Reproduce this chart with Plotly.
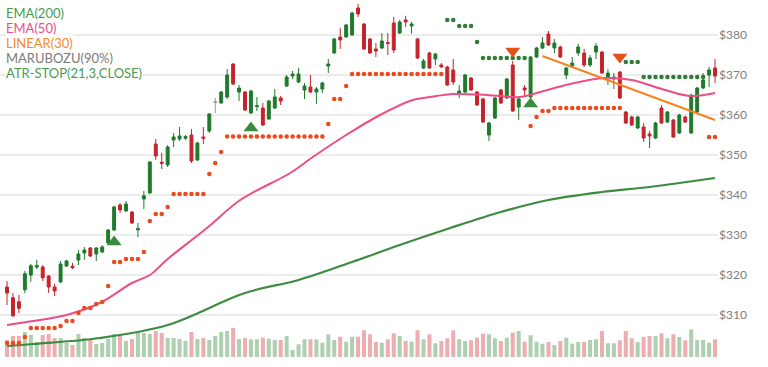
import plotly.graph_objects as go

open_ = [317, 314.3, 313.3, 316.3, 320, 322, 322, 319.75, 317, 318.25,
         322.25, 322.2, 323.75, 325.5, 326.75, 325.25, 325.75, 328, 331.25, 337.5,
         336, 335.75, 331.3, 339, 340.5, 352.75, 348.2, 347.5, 353.75, 354,
         354.2, 355, 348.75, 354.5, 356, 363.2, 363, 364.5, 372.75, 365.75,
         365.75, 360.5, 362.1, 361.75, 359, 361.75, 364.25, 367.25, 369.75, 368.25,
         366.25, 367, 365.75, 366.5, 372.25, 375.5, 379.5, 379.5, 380, 386.75,
         382.75, 379, 376.5, 376.75, 378.1, 383, 380.5, 383.75, 382.25, 379,
         371.75, 375.5, 374, 372.5, 372, 371.25, 365.5, 365.75, 369.25, 365.75,
         364, 355, 359.25, 366.25, 364.25, 372.5, 362, 366.75, 364.5, 374.5,
         376.75, 380.25, 376.75, 377, 370, 372.25, 375.5, 375.5, 372.5, 375.75,
         375.75, 369.5, 369, 370.75, 360.75, 359.5, 356.75, 357, 355.25, 354.25,
         361.75, 358.25, 358.75, 355.5, 359.5, 355.5, 360.75, 366.75, 370, 371.75]
high = [318.5, 315.5, 315, 321, 322.8, 323.8, 322.5, 320, 317.8, 323.5,
        323.8, 323, 326.3, 327, 327, 327, 327.5, 331.5, 337.3, 338,
        338.5, 336, 333, 341, 348.5, 354, 350.5, 352.5, 355.5, 357,
        355, 356.5, 353.3, 357, 360.5, 364.3, 366, 371.5, 373, 367.5,
        366, 366.3, 364.5, 363, 363.8, 366.5, 364.8, 370, 371, 371.8,
        368, 370, 367, 368.3, 374, 379.3, 381.8, 382.8, 385.8, 387.8,
        383, 379.3, 378, 380.5, 380.5, 384.5, 383.8, 384.8, 383.3, 379.3,
        374, 375.8, 375.5, 373, 372.3, 374, 367.5, 370.3, 369.5, 366,
        364.3, 358.3, 364.5, 366.5, 369.3, 373.5, 364.3, 367.5, 374.8, 377,
        379.5, 381, 379, 377.3, 372, 374.5, 377.8, 376.5, 375, 378,
        376, 371.5, 370.5, 371, 361, 359.8, 359.8, 358, 356, 358.3,
        362.5, 361, 359, 360.3, 359.8, 365.3, 367, 370.5, 372, 374]
low = [312.5, 309.5, 310.5, 315.5, 318.3, 321.5, 318.5, 315.5, 314.75, 318,
       322, 321.5, 322.5, 323.8, 324.5, 323.5, 325.5, 327.5, 331, 335.5,
       335.8, 332.8, 329.5, 336.5, 340.3, 348.75, 346.5, 347, 352, 353.5,
       353.8, 348, 348.5, 352.7, 355.5, 360.5, 362.8, 364, 367.5, 363.5,
       361, 360.3, 361, 357.3, 358.8, 361.5, 362.5, 367, 369, 368,
       364, 365.5, 362.8, 365.5, 370.5, 375.3, 376.5, 379.3, 379.8, 384.5,
       376.3, 375.3, 374.5, 376.5, 375, 375.5, 380.3, 382, 380.3, 374,
       371.5, 371.5, 372.5, 371.8, 367.3, 367.5, 364.2, 365.5, 366, 362.3,
       358, 353.5, 359, 362.8, 364, 360.8, 358.75, 364.5, 364.3, 374.3,
       376.5, 377.3, 375.5, 374.3, 369, 372, 374.8, 372, 372, 374,
       370.3, 367.5, 366.5, 364, 357.8, 357.3, 356.5, 353.3, 351.75, 354,
       357.8, 358, 354.3, 355.3, 358, 355.3, 360.5, 366.5, 367, 368]
close = [315.5, 309.8, 311.7, 320.3, 322.3, 322.4, 319.3, 317, 316, 322.75,
         323.5, 321.8, 325.25, 326.25, 324.75, 326.75, 327, 331.25, 337, 336.25,
         337.75, 333, 331.6, 339.8, 348.25, 349.75, 347.9, 352, 354.5, 354.75,
         354.6, 348.5, 353, 354.2, 360.25, 363.3, 365.75, 370, 367.75, 366.75,
         361.25, 366, 362.3, 357.5, 363.5, 364.5, 363.5, 369.5, 370.25, 370.25,
         367.25, 365.75, 366.5, 368, 372.75, 379, 378.75, 382.5, 385.5, 385.25,
         376.5, 375.5, 376, 378.5, 377.9, 376.25, 383.25, 383.25, 382.75, 374.25,
         373.5, 371.75, 375.25, 372, 367.5, 368.25, 366, 370, 366.25, 362.5,
         358.25, 358, 364.25, 363, 369, 361, 364, 366.25, 374.5, 376.75,
         378, 377.5, 378, 374.5, 371.75, 373, 377, 372.5, 374.25, 377.25,
         370.5, 370.5, 369.5, 364.25, 358, 357.5, 359.5, 354.25, 354.75, 358,
         358, 360.75, 354.5, 360, 358.25, 365, 366.75, 368.75, 371.25, 369.75]
volume = [17, 21, 21, 25, 22, 15, 22, 23, 19, 19,
          14, 12, 23, 19, 18, 13, 14, 18, 23, 23,
          16, 18, 24, 24, 23, 26, 24, 19, 19, 18,
          16, 25, 18, 19, 17, 21, 25, 26, 29, 18,
          19, 17.7, 17.7, 19.3, 18.3, 17, 17, 21, 7, 12.7,
          17.7, 17.7, 17.7, 14.3, 22.7, 17, 20.3, 15.3, 20.3, 20.3,
          26.7, 22.7, 15, 14.3, 17.7, 23.7, 21, 16, 15.3, 26.7,
          17.7, 22.7, 13.7, 16, 18.7, 26.7, 17.7, 16, 16.7, 19.3,
          23.3, 22.7, 18.7, 16, 19.3, 24.3, 26, 15.3, 21.7, 15.3,
          13.3, 15, 12, 16, 19.3, 13.3, 15, 15, 17, 17.7,
          26, 13.7, 13.7, 16.7, 26, 18.7, 15, 20, 21, 21,
          23.7, 18.7, 22.7, 20, 16.7, 27.7, 17, 17, 14.3, 17.7]

marubozu_idx = [35]

ema200_idx = [0, 4.4, 15.6, 27, 40, 49, 58, 66, 74.5, 83, 91, 100, 108, 119]
ema200_val = [302.25, 302.75, 304.25, 307.5, 315.5, 318.75, 323.25, 327.5, 331.75,
              335.75, 338.75, 340.75, 342, 344.25]
ema50_idx = [0, 4.4, 10, 15.6, 21, 24, 27, 33.6, 39.2, 47.6, 51.4, 57, 62.7, 68.2,
             71.1, 75, 80.7, 86.2, 89, 94.6, 100.5, 105, 110.6, 115, 119]
ema50_val = [307.5, 308.5, 310, 313, 318, 320, 324, 331.75, 338.75, 345.5, 349.5, 355,
             360, 363.75, 364.5, 365.25, 365, 364.5, 365.5, 367.75, 369.25, 368.75,
             366.25, 364.75, 365.5]
linear_idx = [90, 119]
linear_val = [374.75, 358.75]

N = len(close)
atr_low = ([303] * 3 + [304.5] + [306.75] * 5 + [307.25] + [308.5] * 2 + [310.5]
           + [311.75] * 2 + [312.75, 313.25, 317.25] + [323.25] * 2 + [324] * 3
           + [325.75, 333.5] + [335.25] * 2 + [337] + [340.25] * 6
           + [345.25, 348, 350.75] + [354.6] * 17 + [357.75] + [364] * 2 + [367.25]
           + [370.25] * 16 + [None] * 14 + [357.25, 359.5, 361, 361]
           + [361.75] * 12 + [None] * 14 + [354.5] * 2)
atr_high = ([None] * 74 + [383.75] * 2 + [382.25] * 3 + [378.25] + [374.25] * 8
            + [None] * 16 + [373.25] * 3 + [369.5] * 11 + [None] * 2)

buy_idx = [18, 41, 88]
buy_val = [328.25, 356.75, 362.75]
sell_idx = [85, 103]
sell_val = [376, 374.5]

legend_items = [("EMA(200)", "#4a9a4f"), ("EMA(50)", "#ec4f86"), ("LINEAR(30)", "#f58a2a"),
                ("MARUBOZU(90%)", "#7a7a7a"), ("ATR-STOP(21,3,CLOSE)", "#4a9a4f")]
price_ticks = [310, 320, 330, 340, 350, 360, 370, 380]

GREEN = "#1f7a2a"
RED = "#c4242a"
idx = list(range(N))
norm = [i for i in idx if i not in marubozu_idx]

fig = go.Figure()
vcol = ["rgba(62,140,66,0.42)" if close[i] >= open_[i] else "rgba(214,60,66,0.42)" for i in idx]
fig.add_trace(go.Bar(x=idx, y=volume, marker=dict(color=vcol, line=dict(width=0)),
                     width=0.68, yaxis="y", hoverinfo="skip"))

fig.add_trace(go.Scatter(x=ema200_idx, y=ema200_val, mode="lines", yaxis="y2",
                         line=dict(color="#3b8c40", width=2.2, shape="spline")))
fig.add_trace(go.Scatter(x=ema50_idx, y=ema50_val, mode="lines", yaxis="y2",
                         line=dict(color="#ee4d88", width=2, shape="spline")))
fig.add_trace(go.Candlestick(
    x=[i for i in norm], open=[open_[i] for i in norm], high=[high[i] for i in norm],
    low=[low[i] for i in norm], close=[close[i] for i in norm], yaxis="y2",
    increasing=dict(line=dict(color=GREEN, width=1), fillcolor=GREEN),
    decreasing=dict(line=dict(color=RED, width=1), fillcolor=RED), whiskerwidth=0))
fig.add_trace(go.Candlestick(
    x=marubozu_idx, open=[open_[i] for i in marubozu_idx], high=[high[i] for i in marubozu_idx],
    low=[low[i] for i in marubozu_idx], close=[close[i] for i in marubozu_idx], yaxis="y2",
    increasing=dict(line=dict(color="#9a9a9a", width=1), fillcolor="#9a9a9a"),
    decreasing=dict(line=dict(color="#9a9a9a", width=1), fillcolor="#9a9a9a"), whiskerwidth=0))
fig.add_trace(go.Scatter(x=linear_idx, y=linear_val, mode="lines", yaxis="y2",
                         line=dict(color="#f5831f", width=2)))
fig.add_trace(go.Scatter(x=idx, y=atr_low, mode="markers", yaxis="y2",
                         marker=dict(color="#ea4a1c", size=4.5)))
fig.add_trace(go.Scatter(x=idx, y=atr_high, mode="markers", yaxis="y2",
                         marker=dict(color="#2e7d32", size=4.5)))
fig.add_trace(go.Scatter(x=buy_idx, y=buy_val, mode="markers", yaxis="y2",
                         marker=dict(symbol="triangle-up", color="#3a8a3f", size=13)))
fig.add_trace(go.Scatter(x=sell_idx, y=sell_val, mode="markers", yaxis="y2",
                         marker=dict(symbol="triangle-down", color="#e8501a", size=13)))

PW, PH = 718, 357
for k, (txt, col) in enumerate(legend_items):
    fig.add_annotation(text=txt, xref="paper", yref="paper", x=5 / PW, y=1 - (13 + 15 * k) / PH,
                       xanchor="left", yanchor="middle", showarrow=False, bgcolor="white",
                       borderpad=0, font=dict(family="Lato", size=13, color=col))

fig.update_layout(
    width=768, height=367, margin=dict(l=0, r=50, t=0, b=10),
    paper_bgcolor="white", plot_bgcolor="white", showlegend=False,
    xaxis=dict(range=[-1.18, 119.5], visible=False, rangeslider=dict(visible=False)),
    yaxis=dict(range=[0, PH], visible=False, fixedrange=True),
    yaxis2=dict(range=[299.5, 388.75], overlaying="y", side="right", tickvals=price_ticks,
                ticktext=["$" + str(v) for v in price_ticks], showgrid=True,
                gridcolor="#ececec", gridwidth=1.5, zeroline=False, showline=False,
                tickfont=dict(family="Lato", size=12, color="#808080"), ticks=""),
)
fig.write_html("out.html", config={"displayModeBar": False},
               post_script="document.body.style.margin='0px';")
